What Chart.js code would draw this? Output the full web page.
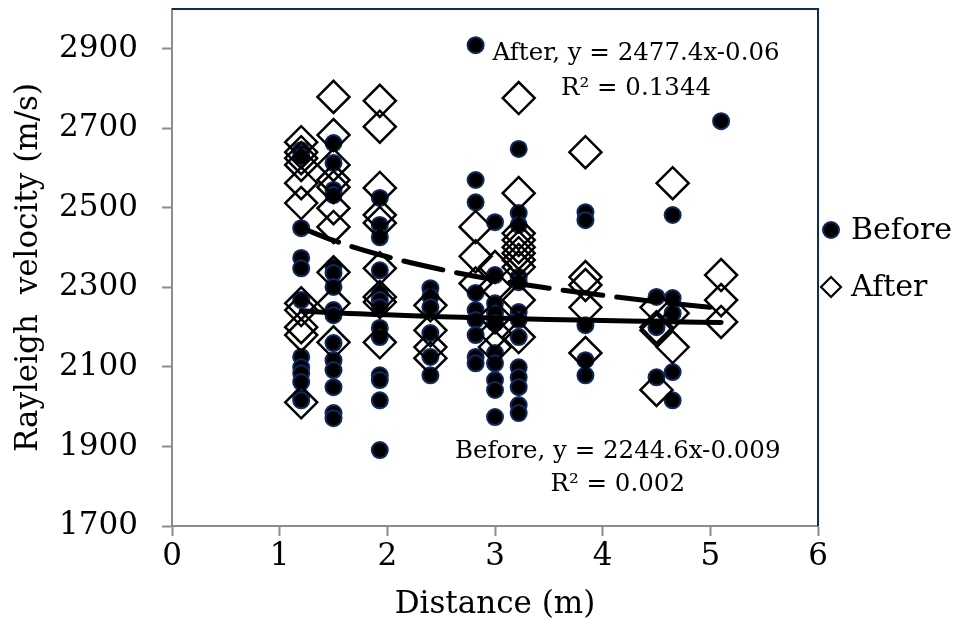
<!DOCTYPE html>
<html>
<head>
<meta charset="utf-8">
<script src="https://cdn.jsdelivr.net/npm/chart.js@4"></script>
<style>
  body { margin: 0; background: #fff; }
  #wrap { width: 957px; height: 632px; }
</style>
</head>
<body>
<div id="wrap"><canvas id="report" width="957" height="632"></canvas></div>
<script>
// measurement positions (m)
const distances = [1.2, 1.5, 1.93, 2.4, 2.82, 3.0, 3.22, 3.84, 4.5, 4.65, 5.1];

// Rayleigh velocity readings per distance (m/s)
const beforeVel = [
    [2645, 2638, 2628, 2449, 2374, 2348, 2268, 2125, 2099, 2084, 2062, 2024, 2016],
    [2663, 2613, 2545, 2532, 2351, 2336, 2301, 2243, 2230, 2160, 2117, 2092, 2049, 1984, 1971],
    [2525, 2457, 2426, 2343, 2286, 2268, 2250, 2198, 2175, 2079, 2067, 2016, 1891],
    [2298, 2276, 2250, 2185, 2125, 2079],
    [2909, 2570, 2514, 2286, 2243, 2218, 2180, 2125, 2109],
    [2464, 2331, 2260, 2235, 2210, 2135, 2109, 2067, 2042, 1974],
    [2648, 2487, 2457, 2326, 2313, 2238, 2218, 2175, 2099, 2074, 2049, 2004, 1984],
    [2489, 2469, 2205, 2117, 2079],
    [2276, 2200, 2074],
    [2482, 2273, 2235, 2087, 2016],
    [2718]
];
const afterVel = [
    [2665, 2640, 2625, 2608, 2562, 2512, 2260, 2243, 2200, 2180, 2011],
    [2779, 2683, 2608, 2570, 2552, 2499, 2452, 2338, 2260, 2162],
    [2769, 2704, 2550, 2482, 2462, 2348, 2276, 2263, 2162],
    [2255, 2192, 2150, 2122],
    [2452, 2378, 2310],
    [2351, 2301, 2225, 2185, 2150],
    [2776, 2537, 2436, 2419, 2401, 2386, 2369, 2351, 2268, 2175],
    [2640, 2326, 2306, 2250, 2135],
    [2250, 2200, 2192, 2042],
    [2562, 2235, 2150],
    [2331, 2268, 2213]
];

// power trendlines as shown in the chart
const trendX = [1.2, 1.5, 2, 2.5, 3, 3.5, 4, 4.5, 5.1];
const beforeTrend = [2241, 2236, 2231, 2226, 2223, 2219, 2217, 2214, 2212];
const afterTrend = [2450, 2418, 2377, 2345, 2319, 2298, 2280, 2264, 2247];

const yTicks = [1700, 1900, 2100, 2300, 2500, 2700, 2900];
const xTicks = [0, 1, 2, 3, 4, 5, 6];

const trendLabels = [
    { x: 4.31, y: 2889, text: 'After, y = 2477.4x-0.06' },
    { x: 4.31, y: 2801, text: 'R² = 0.1344' },
    { x: 4.14, y: 1886, text: 'Before, y = 2244.6x-0.009' },
    { x: 4.14, y: 1803, text: 'R² = 0.002' }
];

function toPoints(xs, groups) {
    let pts = [];
    groups.forEach(function(vals, i) {
        vals.forEach(function(v) { pts.push({ x: xs[i], y: v }); });
    });
    return pts;
}

function linePoints(xs, ys) {
    return xs.map(function(x, i) { return { x: x, y: ys[i] }; });
}

Chart.defaults.font.family = '"DejaVu Serif", serif';
Chart.defaults.color = '#000';

const navy = '#0b2a66';
const axisGrey = '#8c8c8c';
const fontSize = 31;

// diamond marker, same shape as Chart.js rectRot
function diamond(c, x, y, r) {
    c.beginPath();
    c.moveTo(x, y - r);
    c.lineTo(x + r, y);
    c.lineTo(x, y + r);
    c.lineTo(x - r, y);
    c.closePath();
}

const frame = {
    id: 'frame',
    beforeDraw(chart) {
        const c = chart.ctx;
        c.save();
        c.fillStyle = '#fff';
        c.fillRect(0, 0, chart.width, chart.height);
        c.restore();
    },
    beforeDatasetsDraw(chart) {
        const a = chart.chartArea, c = chart.ctx;
        c.save();
        c.strokeStyle = navy;
        c.lineWidth = 2;
        c.beginPath();
        c.moveTo(a.left, a.top);
        c.lineTo(a.right, a.top);
        c.lineTo(a.right, a.bottom);
        c.stroke();
        c.restore();
    },
    afterDraw(chart) {
        const c = chart.ctx, xs = chart.scales.x, ys = chart.scales.y;
        const a = chart.chartArea;
        c.save();
        c.font = '24.5px "DejaVu Serif"';
        c.fillStyle = '#000';
        c.textAlign = 'center';
        c.textBaseline = 'middle';
        trendLabels.forEach(function(l) {
            c.fillText(l.text, xs.getPixelForValue(l.x), ys.getPixelForValue(l.y));
        });

        // legend (only the two marker series)
        const ds = chart.data.datasets;
        const lx = a.right + 13, ly = 230, gap = 57;
        c.font = '30px "DejaVu Serif"';
        c.textAlign = 'left';
        [0, 1].forEach(function(i, k) {
            const y = ly + k * gap;
            if (ds[i].pointStyle === 'circle') {
                c.beginPath();
                c.arc(lx, y, 8, 0, Math.PI * 2);
                c.fillStyle = ds[i].backgroundColor;
                c.fill();
                c.lineWidth = 2;
                c.strokeStyle = ds[i].borderColor;
                c.stroke();
            } else {
                diamond(c, lx, y, 10);
                c.lineWidth = 2.2;
                c.strokeStyle = ds[i].borderColor;
                c.stroke();
            }
            c.fillStyle = '#000';
            c.fillText(ds[i].label, lx + 20, y + 1);
        });
        c.restore();
    }
};

const ctx = document.getElementById('report').getContext('2d');

new Chart(ctx, {
    type: 'scatter',
    data: {
        datasets: [{
            label: 'Before',
            data: toPoints(distances, beforeVel),
            pointStyle: 'circle',
            pointRadius: 8,
            pointHoverRadius: 8,
            backgroundColor: '#000',
            borderColor: navy,
            borderWidth: 2,
            order: 3
        }, {
            label: 'After',
            data: toPoints(distances, afterVel),
            pointStyle: 'rectRot',
            pointRadius: 16,
            pointHoverRadius: 16,
            backgroundColor: 'rgba(255,255,255,0)',
            borderColor: '#000',
            borderWidth: 2.5,
            order: 2
        }, {
            label: 'Before trend',
            data: linePoints(trendX, beforeTrend),
            showLine: true,
            pointRadius: 0,
            borderColor: '#000',
            borderWidth: 5,
            borderCapStyle: 'round',
            cubicInterpolationMode: 'monotone',
            order: 1
        }, {
            label: 'After trend',
            data: linePoints(trendX, afterTrend),
            showLine: true,
            pointRadius: 0,
            borderColor: '#000',
            borderWidth: 5,
            borderDash: [40, 14],
            borderCapStyle: 'round',
            cubicInterpolationMode: 'monotone',
            order: 0
        }]
    },
    options: {
        responsive: false,
        animation: false,
        layout: { autoPadding: false, padding: { left: 10, top: 9, bottom: 8, right: 139 } },
        plugins: {
            tooltip: { enabled: false },
            legend: { display: false }
        },
        scales: {
            x: {
                type: 'linear',
                min: 0,
                max: 6,
                afterBuildTicks: function(s) { s.ticks = xTicks.map(function(v) { return { value: v }; }); },
                afterFit: function(s) { s.height = 98; },
                ticks: { font: { size: fontSize }, padding: 2, color: '#000', callback: function(v) { return String(v); } },
                grid: { drawOnChartArea: false, drawTicks: true, tickLength: 10, color: axisGrey, tickWidth: 2 },
                border: { display: true, color: axisGrey, width: 2 },
                title: { display: true, text: 'Distance (m)', font: { size: fontSize }, color: '#000', padding: { top: 0, bottom: 0 } }
            },
            y: {
                type: 'linear',
                min: 1700,
                max: 3000,
                afterBuildTicks: function(s) { s.ticks = yTicks.map(function(v) { return { value: v }; }); },
                afterFit: function(s) { s.width = 162; s.paddingTop = 0; s.paddingBottom = 0; },
                ticks: { font: { size: fontSize }, padding: 24, color: '#000', callback: function(v) { return String(v); } },
                grid: { drawOnChartArea: false, drawTicks: true, tickLength: 10, color: axisGrey, tickWidth: 2 },
                border: { display: true, color: axisGrey, width: 2 },
                title: { display: true, text: 'Rayleigh  velocity (m/s)', font: { size: fontSize }, color: '#000', padding: { top: 0, bottom: 0 } }
            }
        }
    },
    plugins: [frame]
});
</script>
</body>
</html>
